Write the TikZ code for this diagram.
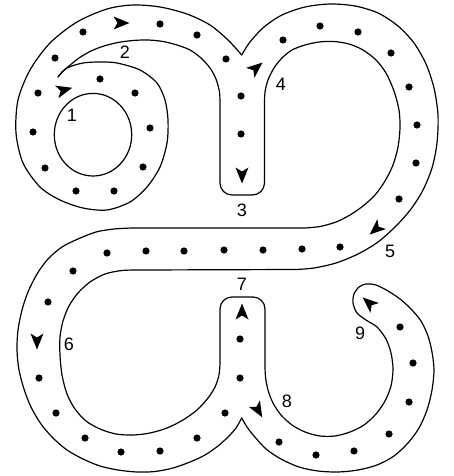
\documentclass[tikz,border=0pt]{standalone}
\usepackage{fontspec}
\setmainfont{Liberation Sans}
\tikzset{
  edge/.style={line width=1.2pt, line cap=round, line join=round},
  trackdot/.style={fill=black},
  numlabel/.style={inner sep=0pt, font=\fontsize{18}{20}\selectfont},
  trackarrow/.pic={\fill (8.5,0) -- (-7.5,6.5) -- (-3.5,0) -- (-7.5,-6.5) -- cycle;}
}
\begin{document}
\begin{tikzpicture}[x=1pt,y=-1pt]
\useasboundingbox (0,0) rectangle (453,476);
\fill[white] (0,0) rectangle (453,476);

% inner circle around 1
\draw[edge] (93,134.7) ellipse [x radius=38.7, y radius=41.3];

% spiral outer edge: cusp C1 to valley V1
\draw[edge] plot[smooth] coordinates {(58,77) (67,68) (83,63) (100,62) (117,63) (140,70) (157,83) (165,100) (168,120) (167,143) (160,167) (147,187) (130,202) (107,210) (83,208) (60,200) (40,187) (23,163) (16,133) (18,100) (30,70) (50,43) (77,22) (107,9) (133,5) (160,7) (187,14) (210,25) (228,40) (241.7,55)};

% V1 -> right top loop outer -> horizontal lower edge -> lower left inner -> stem 7 -> lower right inner -> end 9 -> lower right outer -> V2
\draw[edge] plot[smooth] coordinates {(241.7,55) (250,42) (264,27) (282,15) (305,7) (330,4) (355,6) (378,13) (398,26) (414,43) (426,64) (434,88) (438,115) (437,143) (432,168) (423,190) (411,209) (396,226) (378,242) (358,254) (336,263) (314,268) (296,269.5)}
  -- plot[smooth] coordinates {(140,270) (122,270.5) (105,274) (90,282) (78,293) (69,306) (63,321) (60,337) (60,355) (62,375) (67,394) (75,409) (86,421) (100,429) (116,434) (133,435) (150,433) (167,428) (183,420) (197,410) (208,398) (215,387) (219,375) (220,363)}
  -- (220,309) .. controls (220,302.4) and (225.4,297) .. (232,297) -- (253,297) .. controls (259.6,297) and (265,302.4) .. (265,309)
  -- plot[smooth] coordinates {(265,365) (265.5,377) (268,390) (273,403) (281,415) (292,425) (305,432) (320,436) (335,436) (350,432) (364,425) (376,414) (385,401) (391,386) (393,369) (391,353) (386,339) (377,327) (366,320) (357,313) (353,303) (354,294) (359,287) (366,284) (376,285) (388,291) (400,299) (411,309) (421,321) (428,336) (432,352) (434,370) (432,390) (427,410) (419,428) (408,443) (394,456) (377,465) (358,470) (338,472) (318,471) (299,467) (281,459) (266,449) (254,436) (247,427) (241.7,418)};

% V2 -> lower left outer -> horizontal upper edge -> right top inner -> stem 3 -> inner edge 2 -> C1
\draw[edge] plot[smooth] coordinates {(241.7,418) (236,428) (228,437) (218,446) (205,455) (190,462) (173,468) (155,471.5) (137,472) (118,470) (100,466) (83,459) (67,450) (53,438) (41,424) (31,407) (24,389) (19,370) (17,350) (18,330) (22,310) (28,292) (37,274) (48,259) (62,247) (78,239) (96,232) (114,229) (132,228)}
  -- plot[smooth] coordinates {(305,228) (320,226.5) (336,222) (350,215) (363,206) (375,195) (385,181) (393,165) (398,147) (400,128) (399,110) (394,91) (386,73) (376,60) (363,50) (349,44) (334,41.5) (319,42) (305,45) (292,50) (282,58) (274,68) (268,80) (265,92) (264.5,104)}
  -- (264.5,183) .. controls (264.5,189.6) and (259.1,195) .. (252.5,195) -- (232,195) .. controls (225.4,195) and (220,189.6) .. (220,183)
  -- plot[smooth] coordinates {(220,104) (219.5,92) (216,79) (210,68) (201,58) (190,50) (177,45) (163,41.5) (148,40) (133,40.5) (118,42.5) (104,46) (91,51) (79,58) (69,66) (62,72) (58,77)};

% dots along the track
\foreach \p in {(100,79),(135,93),(150,128),(143,167),(114,191),(76,191),(45,168),(33,132),(38,93),(55,58),(83,32),(160,24),(197,35),(226,59),
  (241,96),(241,134),
  (283,40),(320,26),(358,32),(391,53),(409,87),(417,125),(416,163),(399,199),
  (340,247),(302,249),(263,250),(224,250),(184,251),(146,251),(107,253),
  (73,271),(48,302),(39,378),(56,413),(85,438),(121,452),(160,451),(197,438),(225,413),
  (240,339),(240,378),
  (279,442),(316,455),(354,451),(389,434),(409,402),(413,363),(400,327)}
  \fill[trackdot] \p circle[radius=3.6];

% direction arrows
\pic[rotate=15] (arr1) at (64,90) {trackarrow};
\pic[rotate=0] (arr2) at (121,23) {trackarrow};
\pic[rotate=-90] (arr3) at (242,175) {trackarrow};
\pic[rotate=40] (arr4) at (256,68) {trackarrow};
\pic[rotate=221] (arr5) at (376,229) {trackarrow};
\pic[rotate=-90] (arr6) at (37,341) {trackarrow};
\pic[rotate=90] (arr7) at (242,312) {trackarrow};
\pic[rotate=-60] (arr8) at (258,410) {trackarrow};
\pic[rotate=139] (arr9) at (369,303) {trackarrow};

% labels
\node[numlabel] (l1) at (72,115) {1};
\node[numlabel] (l2) at (125,52) {2};
\node[numlabel] (l3) at (242,210) {3};
\node[numlabel] (l4) at (281,84) {4};
\node[numlabel] (l5) at (390,251) {5};
\node[numlabel] (l6) at (69,344) {6};
\node[numlabel] (l7) at (242,284) {7};
\node[numlabel] (l8) at (287,401) {8};
\node[numlabel] (l9) at (360,333) {9};
\end{tikzpicture}
\end{document}
